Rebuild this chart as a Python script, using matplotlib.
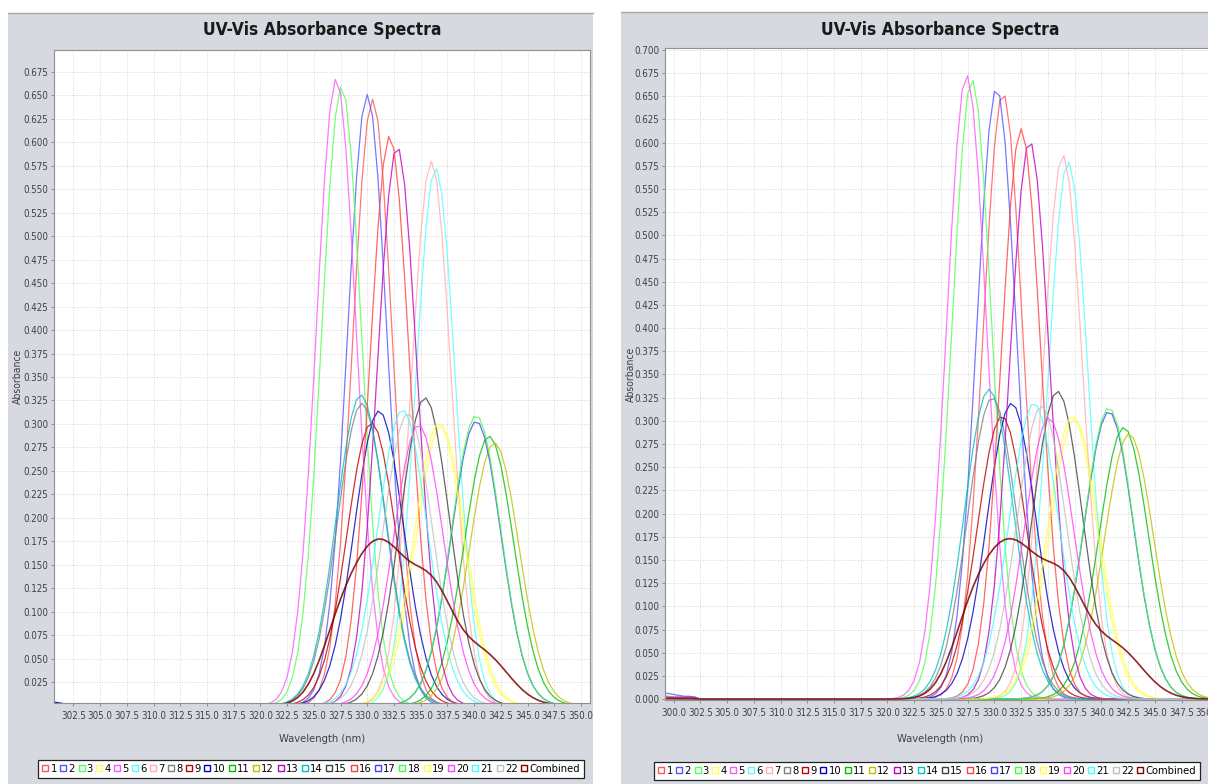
"""Recreate the two side-by-side UV-Vis absorbance spectra panels."""

import numpy as np
import matplotlib
matplotlib.use("Agg")
import matplotlib.pyplot as plt
from matplotlib.lines import Line2D
from matplotlib.patches import Rectangle

plt.rcParams["font.family"] = ["DejaVu Sans"]
plt.rcParams["font.stretch"] = "condensed"

FIG_W, FIG_H = 1208, 784
PANEL_BG = "#d6d9df"

SERIES_NAMES = [str(i) for i in range(1, 23)]
SERIES_COLORS = [
    "#ff5555", "#5555ff", "#55ff55", "#ffff55", "#ff55ff", "#55ffff", "#ffafaf",
    "#808080", "#c00000", "#0000c0", "#00c000", "#c0c000", "#c000c0", "#00c0c0",
    "#404040", "#ff4040", "#4040ff", "#40ff40", "#ffff40", "#ff40ff", "#40ffff",
    "#c0c0c0",
]
COMBINED_COLOR = "#800000"

# wavelength sampling of the spectra (nm)
wavelengths = np.arange(299.0, 351.6, 0.5)

# peak position (nm), peak absorbance and band width (nm) of each series
left_centers = [330.5, 330.0, 327.6, 336.9, 327.1, 336.4, 336.0, 329.5, 330.4, 331.1, 341.4,
                341.9, 332.8, 329.4, 335.4, 332.1, 340.2, 340.2, 336.7, 334.8, 333.3, 333.8]
left_heights = [0.646, 0.651, 0.660, 0.298, 0.668, 0.573, 0.580, 0.322, 0.301, 0.314, 0.287,
                0.280, 0.596, 0.331, 0.328, 0.607, 0.303, 0.309, 0.301, 0.299, 0.315, 0.311]
left_widths = [1.85, 1.85, 1.85, 2.3, 1.85, 1.85, 1.85, 2.3, 2.3, 2.3, 2.3,
               2.3, 1.85, 2.3, 2.3, 1.85, 2.3, 2.3, 2.3, 2.3, 2.3, 2.3]

right_centers = [330.8, 330.2, 327.9, 337.5, 327.4, 336.9, 336.4, 329.8, 330.7, 331.6, 342.1,
                 342.6, 333.3, 329.5, 335.9, 332.5, 340.7, 340.7, 337.3, 335.1, 333.7, 334.4]
right_heights = [0.654, 0.659, 0.668, 0.302, 0.673, 0.580, 0.587, 0.325, 0.305, 0.319, 0.293,
                 0.286, 0.602, 0.334, 0.332, 0.615, 0.310, 0.314, 0.305, 0.303, 0.319, 0.316]
right_widths = left_widths

# small baseline offsets at the short-wavelength end (299.0 .. 302.5 nm)
left_edge_blue = [0.005, 0.005, 0.004, 0.004, 0.003, 0.002, 0.001, 0.0]
right_edge_blue = [0.007, 0.006, 0.005, 0.004, 0.003, 0.003, 0.002, 0.0]
right_edge_red = [0.003, 0.003, 0.002, 0.002, 0.002, 0.002, 0.001, 0.0]
right_edge_purple = [0.002, 0.002, 0.002, 0.002, 0.002, 0.002, 0.002, 0.0]

LEGEND_LABELS = SERIES_NAMES + ["Combined"]


def build_spectra(centers, heights, widths, edges):
    spectra = []
    for center, height, width in zip(centers, heights, widths):
        spectra.append(height * np.exp(-0.5 * ((wavelengths - center) / width) ** 2))
    spectra = np.array(spectra)
    for index, values in edges.items():
        spectra[index, :len(values)] += values
    return spectra


def px_axes(fig, x0, y0, x1, y1):
    return fig.add_axes([x0 / FIG_W, 1 - y1 / FIG_H, (x1 - x0) / FIG_W, (y1 - y0) / FIG_H])


def draw_panel(fig, box, spectra, xlim, ylim, xticks, yticks, text_x, ylabel_x, legend_box):
    x0, y0, x1, y1 = box
    axis = px_axes(fig, x0, y0, x1, y1)
    axis.set_facecolor("white")

    for values, color in zip(spectra, SERIES_COLORS):
        axis.plot(wavelengths, values, color=color, linewidth=0.9, alpha=0.8)
    combined = spectra.mean(axis=0)
    axis.plot(wavelengths, combined, color=COMBINED_COLOR, linewidth=1.2, alpha=0.85)

    axis.set_xlim(*xlim)
    axis.set_ylim(*ylim)
    axis.set_xticks(xticks)
    axis.set_yticks(yticks)
    axis.set_xticklabels([f"{v:.1f}" for v in xticks])
    axis.set_yticklabels([f"{v:.3f}" for v in yticks])
    axis.tick_params(direction="out", length=2, width=0.6, color="#808080",
                     labelsize=7, pad=2, labelcolor="#404040")
    axis.tick_params(axis="x", pad=4)
    axis.grid(True, color="#c8c8c8", linestyle=(0, (1, 2)), linewidth=0.6)
    axis.set_axisbelow(True)
    for spine in axis.spines.values():
        spine.set_color("#909090")
        spine.set_linewidth(0.8)

    fig.text(text_x / FIG_W, 1 - 30 / FIG_H, "UV-Vis Absorbance Spectra",
             ha="center", va="center", fontsize=12.5, fontweight="bold", color="#1a1a1a")
    fig.text(text_x / FIG_W, 1 - 739 / FIG_H, "Wavelength (nm)",
             ha="center", va="center", fontsize=8, color="#404040")
    fig.text(ylabel_x / FIG_W, 1 - ((y0 + y1) / 2) / FIG_H, "Absorbance",
             ha="center", va="center", rotation=90, fontsize=7.5, color="#404040")

    handles = [
        Line2D([], [], marker="s", markersize=5, markerfacecolor="none",
               markeredgecolor=color, markeredgewidth=1.0, linestyle="none")
        for color in SERIES_COLORS + [COMBINED_COLOR]
    ]
    lx0, ly0, lx1 = legend_box
    legend = axis.legend(
        handles, LEGEND_LABELS, ncol=len(LEGEND_LABELS), loc="upper center",
        bbox_to_anchor=(((lx0 + lx1) / 2) / FIG_W, 1 - ly0 / FIG_H),
        bbox_transform=fig.transFigure, fontsize=8, handlelength=0.6,
        handletextpad=0.15, columnspacing=0.3, borderpad=0.35, frameon=True,
        fancybox=False, framealpha=1.0, borderaxespad=0,
    )
    legend.get_frame().set_edgecolor("#222222")
    legend.get_frame().set_linewidth(0.9)
    return axis


fig = plt.figure(figsize=(FIG_W / 100, FIG_H / 100), dpi=100)
fig.patch.set_facecolor("white")

# panel backgrounds
for px0, py0, px1 in [(8, 13, 593), (621, 12, FIG_W)]:
    fig.patches.append(Rectangle((px0 / FIG_W, 0), (px1 - px0) / FIG_W, 1 - py0 / FIG_H,
                                 transform=fig.transFigure, facecolor=PANEL_BG,
                                 edgecolor="none", zorder=-10))
    fig.lines.append(Line2D([px0 / FIG_W, px1 / FIG_W], [1 - py0 / FIG_H] * 2,
                            transform=fig.transFigure, color="#a8a8a8", linewidth=1.0,
                            zorder=-9))

left_spectra = build_spectra(left_centers, left_heights, left_widths,
                             {1: left_edge_blue, 9: left_edge_blue})
right_spectra = build_spectra(right_centers, right_heights, right_widths,
                              {1: right_edge_blue, 0: right_edge_red, 2: right_edge_red,
                               12: right_edge_purple})

left_xticks = np.arange(302.5, 350.01, 2.5)
left_yticks = np.arange(0.025, 0.6751, 0.025)
right_xticks = np.arange(300.0, 350.01, 2.5)
right_yticks = np.arange(0.0, 0.7001, 0.025)

draw_panel(fig, (54, 50, 590, 703), left_spectra, (300.68, 350.85), (0.0026, 0.6984),
           left_xticks, left_yticks, 322, 18, (37, 760, 585))
draw_panel(fig, (665, 48, 1219, 700), right_spectra, (299.2, 351.0), (-0.001, 0.702),
           right_xticks, right_yticks, 940, 631, (657, 762, 1197))

fig.savefig("out.png", dpi=100)
